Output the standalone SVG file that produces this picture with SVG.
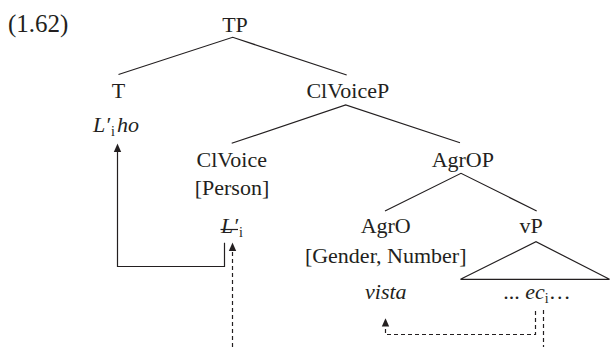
<svg xmlns="http://www.w3.org/2000/svg" width="610" height="347" viewBox="0 0 610 347">
  <style>
    text { font-family: "Liberation Serif", "Times New Roman", serif; font-size: 22px; fill: #231f20; }
    .c { text-anchor: middle; }
    .it { font-style: italic; }
    .sub { font-style: normal; font-size: 14px; }
    .num { font-size: 25px; }
    .edge { stroke: #231f20; stroke-width: 1.2; fill: none; }
    .dash { stroke: #231f20; stroke-width: 1.2; fill: none; stroke-dasharray: 4 3; }
    .head { fill: #231f20; }
  </style>
  <rect width="610" height="347" fill="#ffffff"/>

  <text class="num" x="8" y="31.5">(1.62)</text>

  <!-- tree branches -->
  <g id="connectors">
    <path class="edge" d="M118.5 74.5 L232.7 37.3 L346.7 75"/>
    <path class="edge" d="M231.7 143.3 L345.7 105 L460 142.7"/>
    <path class="edge" d="M385 211 L461 173.3 L536.7 211"/>
    <path class="edge" d="M460.5 279.3 L536 241.7 L609.5 279.3 Z"/>
    <!-- head movement: L' to T -->
    <path class="edge" d="M224.5 242.7 V266.5 H117.5 V151"/>
    <path class="head" d="M117.5 143.5 L113.8 152 L121.2 152 Z"/>
    <!-- dashed raising into L' -->
    <path class="dash" d="M232.5 347 V250"/>
    <path class="head" d="M232.5 242.5 L228.8 251 L236.2 251 Z"/>
    <!-- dashed link ec to vista -->
    <path class="dash" d="M535.5 311 V334.5 H385.5 V326"/>
    <path class="head" d="M385.5 318.3 L381.8 326.5 L389.2 326.5 Z"/>
    <path class="dash" d="M543.5 310 V347"/>
  </g>

  <g id="TP"><text class="c" x="235" y="31.5">TP</text></g>
  <g id="T">
    <text class="c" x="118.5" y="98">T</text>
    <text class="it" x="93" y="131.5">L′<tspan class="sub" dy="4" dx="1">i</tspan><tspan dy="-4" dx="2">ho</tspan></text>
  </g>
  <g id="ClVoiceP"><text class="c" x="347.8" y="97.7">ClVoiceP</text></g>
  <g id="ClVoice">
    <text class="c" x="231.7" y="166.7">ClVoice</text>
    <text class="c" x="232" y="195">[Person]</text>
    <text class="it" x="221" y="233.3">L′<tspan class="sub" dy="4" dx="1">i</tspan></text>
    <line class="edge" x1="220.5" y1="229.5" x2="238" y2="229.5"/>
  </g>
  <g id="AgrOP"><text class="c" x="462.8" y="166.7">AgrOP</text></g>
  <g id="AgrO">
    <text class="c" x="385.7" y="233.3">AgrO</text>
    <text class="c" x="385.7" y="263.3">[Gender, Number]</text>
    <text class="c it" x="385.8" y="299">vista</text>
  </g>
  <g id="vP">
    <text class="c" x="531" y="233">vP</text>
    <text x="503.3" y="299">... <tspan class="it">ec</tspan><tspan class="sub" dy="4">i</tspan><tspan dy="-4">…</tspan></text>
  </g>
</svg>
